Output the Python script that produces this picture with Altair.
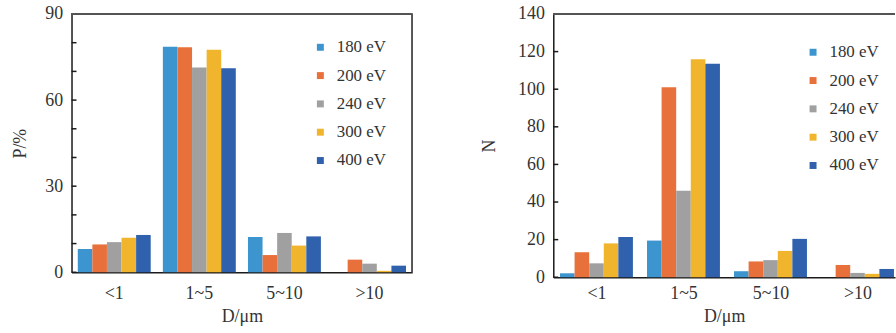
import altair as alt
import pandas as pd

categories = ["<1", "1~5", "5~10", ">10"]
series = ["180 eV", "200 eV", "240 eV", "300 eV", "400 eV"]
colors = ["#3d95cf", "#e8703a", "#a0a0a0", "#f0b52c", "#2f61ac"]

# Left panel: P/%
p_180 = [8.1, 78.6, 12.3, 0.0]
p_200 = [9.7, 78.4, 6.0, 4.4]
p_240 = [10.5, 71.4, 13.7, 3.0]
p_300 = [12.0, 77.5, 9.3, 0.5]
p_400 = [13.0, 71.1, 12.5, 2.3]

# Right panel: N
n_180 = [2.1, 19.5, 3.2, 0.0]
n_200 = [13.3, 101.0, 8.4, 6.5]
n_240 = [7.4, 46.0, 9.1, 2.3]
n_300 = [18.0, 116.0, 14.0, 1.8]
n_400 = [21.4, 113.5, 20.4, 4.4]

p_ticks = [0, 10, 20, 30, 40, 50, 60, 70, 80, 90]
p_labels = [0, 30, 60, 90]
n_ticks = [0, 20, 40, 60, 80, 100, 120, 140]
n_labels = [0, 20, 40, 60, 80, 100, 120, 140]

FONT = "Liberation Serif"
TXT = "#333333"
AXC = "#1a1a1a"


def long_df(cols):
    rows = []
    for s, vals in zip(series, cols):
        for c, v in zip(categories, vals):
            rows.append({"cat": c, "series": s, "value": v})
    return pd.DataFrame(rows)


def panel(df, ticks, labels, ymax, ytitle, width, height, lx, ly,
          xscale, xlabpad, right_border, ytitlepad, yextent):
    yaxis = alt.Axis(title=ytitle, values=labels, ticks=False,
                     grid=False, labelPadding=9,
                     labelOverlap=False, labelBound=False,
                     titlePadding=ytitlepad,
                     minExtent=yextent, maxExtent=yextent,
                     domainColor=AXC, domainWidth=1.5,
                     labelFont=FONT, titleFont=FONT,
                     labelFontSize=18, titleFontSize=18,
                     labelColor=TXT, titleColor=TXT,
                     titleFontWeight="normal")
    yscale = alt.Scale(domain=[0, ymax], nice=False, zero=True)
    bars = alt.Chart(df).mark_bar().encode(
        x=alt.X("cat:N", sort=categories, scale=xscale,
                axis=alt.Axis(title="D/μm", labelAngle=0, ticks=False,
                              labelPadding=xlabpad, titlePadding=6,
                              labelOverlap=False,
                              domainColor=AXC, domainWidth=1.5,
                              labelFont=FONT, titleFont=FONT,
                              labelFontSize=18, titleFontSize=18,
                              labelColor=TXT, titleColor=TXT,
                              titleFontWeight="normal")),
        xOffset=alt.XOffset("series:N", sort=series,
                            scale=alt.Scale(paddingInner=0, paddingOuter=0)),
        y=alt.Y("value:Q", scale=yscale, axis=yaxis),
        color=alt.Color("series:N", sort=series,
                        scale=alt.Scale(domain=series, range=colors),
                        legend=alt.Legend(orient="none", legendX=lx,
                                          legendY=ly, title=None,
                                          symbolType="square",
                                          symbolSize=49,
                                          symbolStrokeWidth=0,
                                          labelFont=FONT,
                                          labelFontSize=17,
                                          labelColor=TXT,
                                          labelOffset=8,
                                          rowPadding=10.5,
                                          padding=0)),
    )
    tick_df = pd.DataFrame({"value": ticks})
    tick_layer = alt.Chart(tick_df).mark_rule(color=AXC, strokeWidth=1.5).encode(
        y=alt.Y("value:Q", scale=yscale, axis=yaxis),
        x=alt.value(0),
        x2=alt.value(5),
    )
    top = alt.Chart(tick_df).mark_rule(color="#555555", strokeWidth=1).encode(
        y=alt.value(0), x=alt.value(0), x2=alt.value("width"))
    layers = [bars, tick_layer, top]
    if right_border:
        layers.append(alt.Chart(tick_df).mark_rule(color="#555555", strokeWidth=1).encode(
            x=alt.value("width"), y=alt.value(0), y2=alt.value("height")))
    return alt.layer(*layers).properties(width=width, height=height)


left = panel(
    long_df([p_180, p_200, p_240, p_300, p_400]), p_ticks, p_labels, 90,
    "P/%", 343, 260, 242, 25,
    alt.Scale(paddingInner=0.143, paddingOuter=0.0735),
    12, True, 15, 27)

right = panel(
    long_df([n_180, n_200, n_240, n_300, n_400]), n_ticks, n_labels, 140,
    "N", 344, 265, 253, 30,
    alt.Scale(paddingInner=0.15, paddingOuter=0.0385, align=1),
    7, False, 19, 36)

chart = alt.hconcat(left, right, spacing=68).resolve_scale(
    color="independent", y="independent", x="independent"
).properties(
    padding={"left": 12, "top": 4, "right": 0, "bottom": 0},
    background="white",
).configure_view(stroke=None).configure_axis(labelOverlap=False)

chart.save("out.html", embed_options={"renderer": "svg", "actions": False})
